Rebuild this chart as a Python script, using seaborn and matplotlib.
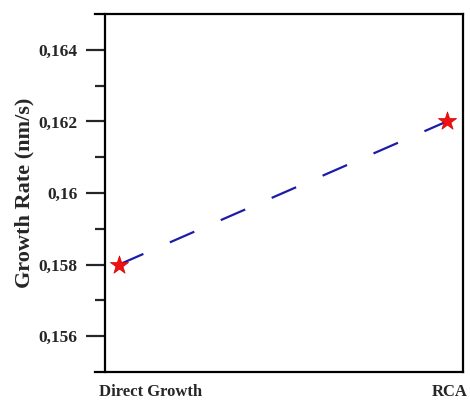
import matplotlib
matplotlib.use("Agg")
import matplotlib.pyplot as plt
import matplotlib.transforms as mtransforms
from matplotlib.ticker import FixedLocator, FuncFormatter
import pandas as pd
import seaborn as sns

methods = ["Direct Growth", "RCA"]
growth_rate = [0.158, 0.162]
y_major = [0.156, 0.158, 0.160, 0.162, 0.164]
y_minor = [0.157, 0.159, 0.161, 0.163]

sns.set_theme(style="ticks")
plt.rcParams["font.family"] = ["Liberation Serif", "DejaVu Serif"]
plt.rcParams["font.weight"] = "bold"

df = pd.DataFrame({"pos": range(len(methods)), "method": methods, "rate": growth_rate})

fig = plt.figure(figsize=(4.70, 4.01), dpi=100)
ax = fig.add_axes([95 / 470, 29 / 401, 368 / 470, 358 / 401])

sns.lineplot(data=df, x="pos", y="rate", ax=ax, color="#1c1ca8", linewidth=1.6)
ax.lines[0].set_dashes([12, 13])
sns.scatterplot(data=df, x="pos", y="rate", ax=ax, marker="*", s=190,
                color="#ee1111", edgecolor="#dd0000", linewidth=0.5, zorder=5)

ax.set_xlim(-0.073, 1.049)
ax.set_ylim(0.155, 0.165)

ax.yaxis.set_major_locator(FixedLocator(y_major))
ax.yaxis.set_minor_locator(FixedLocator(y_minor))
ax.yaxis.set_major_formatter(FuncFormatter(
    lambda v, p: f"{v:.3f}".rstrip("0").replace(".", ",")))

ax.set_xticks(df["pos"])
ax.set_xticklabels(methods)
ax.tick_params(axis="x", length=0, pad=8.5, labelsize=12)
ax.tick_params(axis="y", which="major", length=14, width=1.6, pad=6, labelsize=12.5)
ax.tick_params(axis="y", which="minor", length=7, width=1.6)
offsets = [23, 2]
for lbl, dx in zip(ax.get_xticklabels(), offsets):
    lbl.set_transform(lbl.get_transform() +
                      mtransforms.ScaledTranslation(dx / 72, 0, fig.dpi_scale_trans))
    lbl.set_fontweight("bold")
for lbl in ax.get_yticklabels():
    lbl.set_fontweight("bold")

for side in ["left", "right", "top", "bottom"]:
    ax.spines[side].set_visible(True)
    ax.spines[side].set_linewidth(1.6)
    ax.spines[side].set_color("black")
ax.spines["left"].set_position(("outward", -7.5))

ax.set_xlabel("")
ax.set_ylabel("Growth Rate (nm/s)", fontsize=16, fontweight="bold", labelpad=3)

fig.savefig("out.png", dpi=100, facecolor="white")
